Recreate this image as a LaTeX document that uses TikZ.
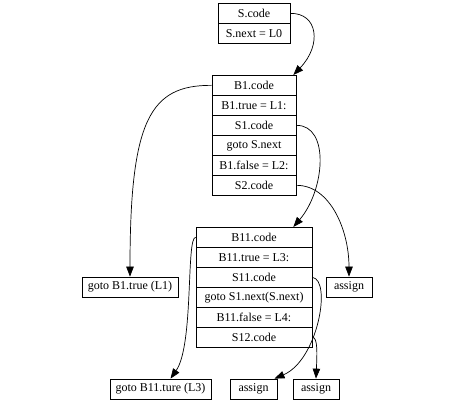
\documentclass[tikz,border=0pt]{standalone}
\usepackage{fontspec}
\setmainfont{Liberation Serif}
\usetikzlibrary{arrows.meta}

\begin{document}
\begin{tikzpicture}[
    x=1pt, y=-1pt,
    font=\fontsize{12}{14}\selectfont,
    campo/.style={draw, line width=0.7pt, minimum height=20pt, inner sep=0pt, anchor=north},
    foglia/.style={draw, line width=0.7pt, minimum height=20pt, inner sep=0pt},
    freccia/.style={line width=0.7pt, -{Triangle[length=10pt,width=7.5pt]}},
  ]
  \useasboundingbox (0,0) rectangle (456,403);

  % --- record S -------------------------------------------------------
  \foreach \i/\t in {1/S.code, 2/S.next = L0}{%
    \node[campo, minimum width=72pt] (s\i) at (254,{3+20*(\i-1)}) {\t};
  }

  % --- record B1 ------------------------------------------------------
  \foreach \i/\t in {1/B1.code, 2/B1.true = L1:, 3/S1.code, 4/goto S.next,
                     5/B1.false = L2:, 6/S2.code}{%
    \node[campo, minimum width=84pt] (b\i) at (254,{75+20*(\i-1)}) {\t};
  }

  % --- record B11 -----------------------------------------------------
  \foreach \i/\t in {1/B11.code, 2/B11.true = L3:, 3/S11.code,
                     4/goto S1.next(S.next), 5/B11.false = L4:, 6/S12.code}{%
    \node[campo, minimum width=116pt] (bb\i) at (254,{227+20*(\i-1)}) {\t};
  }

  % --- foglie ---------------------------------------------------------
  \node[foglia, minimum width=96pt]  (l1) at (130,287)   {goto B1.true (L1)};
  \node[foglia, minimum width=46pt]  (a1) at (349,287)   {assign};
  \node[foglia, minimum width=101pt] (l3) at (160.5,389) {goto B11.ture (L3)};
  \node[foglia, minimum width=47pt]  (a2) at (253.5,389) {assign};
  \node[foglia, minimum width=46pt]  (a3) at (316,389)   {assign};

  % --- archi ----------------------------------------------------------
  \draw[freccia] (s1.east) .. controls (318,13) and (322,45) .. ([xshift=-3pt]b1.north east);
  \draw[freccia] (b1.west) .. controls (150,85) and (130,120) .. (l1.north);
  \draw[freccia] (b3.east) .. controls (330,125) and (325,190) .. ([xshift=-19pt]bb1.north east);
  \draw[freccia] (b6.east) .. controls (330,185) and (349,230) .. (a1.north);
  \draw[freccia] (bb1.west) .. controls (186,237) and (194,345) .. ([xshift=10pt]l3.north);
  \draw[freccia] (bb3.east) .. controls (332,280) and (318,360) .. ([xshift=21pt]a2.north);
  \draw[freccia] (bb6.east) .. controls (318,337) and (317,355) .. (a3.north);

\end{tikzpicture}
\end{document}
